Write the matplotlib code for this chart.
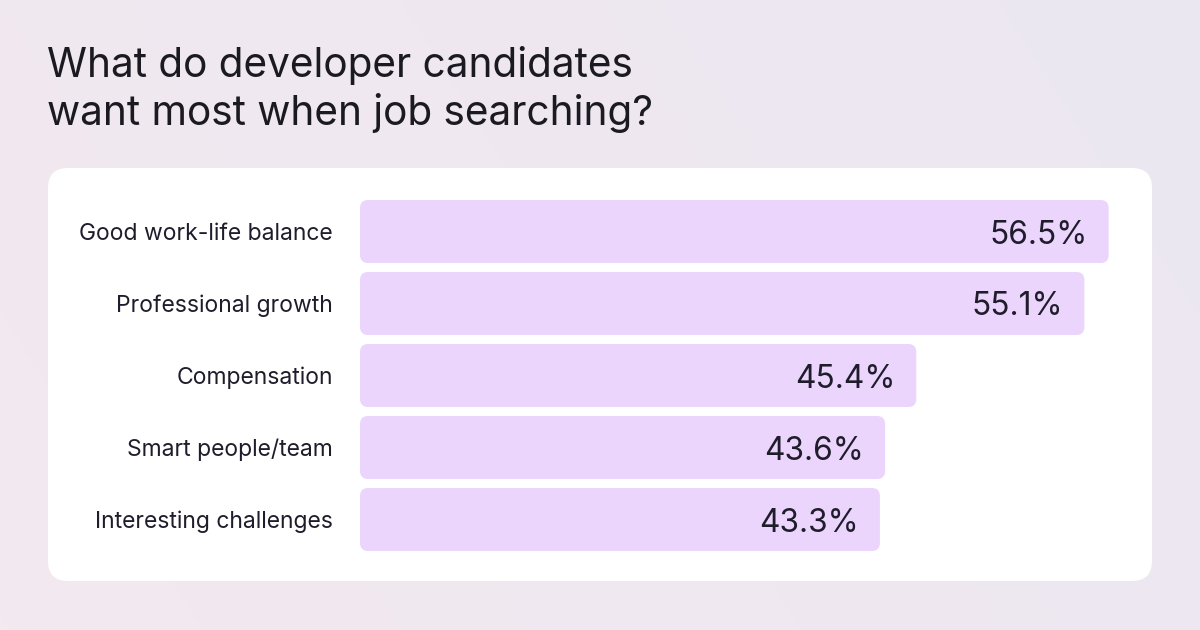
import matplotlib
matplotlib.use("Agg")
import matplotlib.pyplot as plt
import numpy as np
from matplotlib.patches import FancyBboxPatch
from matplotlib.colors import LinearSegmentedColormap

categories = ["Good work-life balance", "Professional growth", "Compensation",
              "Smart people/team", "Interesting challenges"]
values = [56.5, 55.1, 45.4, 43.6, 43.3]
value_labels = ["56.5%", "55.1%", "45.4%", "43.6%", "43.3%"]
title = "What do developer candidates\nwant most when job searching?"

plt.rcParams['font.family'] = ['Inter', 'DejaVu Sans']
W, H, DPI = 1200, 630, 100
fig = plt.figure(figsize=(W / DPI, H / DPI), dpi=DPI)

# background gradient
bg = fig.add_axes([0, 0, 1, 1], zorder=0)
bg.set_axis_off()
xx, yy = np.meshgrid(np.linspace(0, 1, 300), np.linspace(0, 1, 160))
g = np.clip(0.75 * xx + 0.25 * (1 - yy), 0, 1)
cmap = LinearSegmentedColormap.from_list("bg", ["#f3e9ef", "#ebe7f2"])
bg.imshow(g, cmap=cmap, aspect="auto", extent=[0, 1, 0, 1], origin="upper")
bg.set_xlim(0, 1); bg.set_ylim(0, 1)

# white card (pixel coords)
card = FancyBboxPatch((48 + 20, 49 + 20), 1104 - 40, 413 - 40,
                      boxstyle="round,pad=20,rounding_size=20",
                      transform=None, facecolor="white", edgecolor="none", zorder=1)
fig.patches.append(card)

fig.text(47 / W, 1 - 125 / H, title, fontsize=29.2, color="#1b1a22",
         ha="left", va="baseline", linespacing=1.25)

# bar axes
base = 13.3
px_per_unit = 17.33
ax_left, ax_w = 360, 770
ax = fig.add_axes([ax_left / W, (H - 555.5) / H, ax_w / W, 360 / H], zorder=2)
ax.set_xlim(base, base + ax_w / px_per_unit)
ax.set_ylim(len(values) - 0.5, -0.5)
ax.set_axis_off()
ax.patch.set_alpha(0)

y = np.arange(len(values))
bars = ax.barh(y, [v - base for v in values], left=base, height=63 / 72,
               color="none", edgecolor="none")

fig.canvas.draw()
for b, lab, cat in zip(bars, value_labels, categories):
    bb = b.get_window_extent()
    r = 8
    p = FancyBboxPatch((bb.x0 + r, bb.y0 + r), bb.width - 2 * r, bb.height - 2 * r,
                       boxstyle=f"round,pad={r},rounding_size={r}",
                       transform=None, facecolor="#ebd5fd", edgecolor="none", zorder=3)
    fig.patches.append(p)
    yc = (bb.y0 + bb.y1) / 2
    fig.text((bb.x1 - 21) / W, yc / H, lab, fontsize=22.8, color="#1f1c2b",
             ha="right", va="center_baseline", zorder=4)
    fig.text(333 / W, yc / H, cat, fontsize=16.5, color="#1f1c2b",
             ha="right", va="center_baseline", zorder=4)

fig.savefig("out.png", dpi=DPI)
